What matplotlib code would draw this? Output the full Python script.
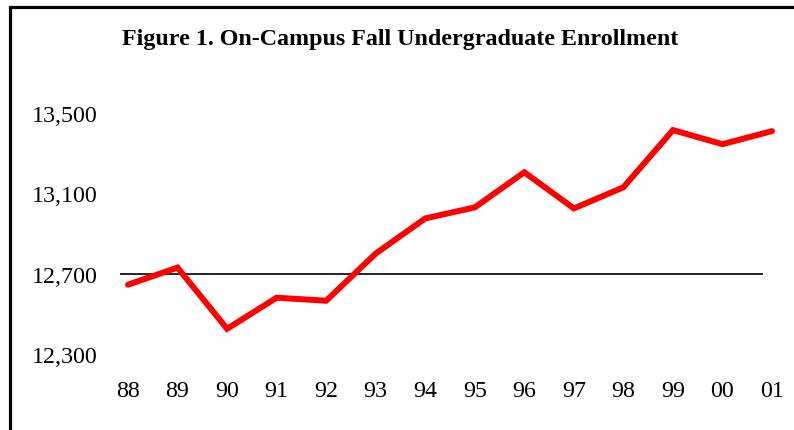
import matplotlib
matplotlib.use("Agg")
import matplotlib.pyplot as plt
from matplotlib.patches import Rectangle

years = ["88", "89", "90", "91", "92", "93", "94", "95", "96", "97", "98", "99", "00", "01"]
enrollment = [12645, 12730, 12425, 12580, 12565, 12800, 12975, 13030, 13205, 13025, 13130, 13415, 13345, 13410]
yticks = [12300, 12700, 13100, 13500]
ytick_labels = ["12,300", "12,700", "13,100", "13,500"]
title = "Figure 1. On-Campus Fall Undergraduate Enrollment"

W, H = 794, 431
fig = plt.figure(figsize=(W / 100, H / 100), dpi=100)
plt.rcParams['font.family'] = ['Liberation Serif', 'DejaVu Serif']

# axes: left 120px, right 780px, top 100px, bottom 380px
ax = fig.add_axes([120 / W, 1 - 380 / H, 660 / W, 280 / H])
x = list(range(len(years)))
step = (772 - 128) / 13
ax.set_xlim(-8 / step, 13 + 8 / step)
ax.set_ylim(12300 - 27 * 5 + 10, 13500 + 12 * 5 + 10)

ax.hlines(12700, -8 / step, (763 - 128) / step, color="black", linewidth=1.2, zorder=1)
ax.plot(x, enrollment, color="#ff0000", linewidth=4.3, solid_joinstyle="miter",
        solid_capstyle="round", zorder=2)

for s in ax.spines.values():
    s.set_visible(False)
ax.set_yticks(yticks)
ax.set_yticklabels(ytick_labels, fontsize=17.3)
ax.tick_params(axis="y", length=0, pad=16)
ax.set_xticks(x)
ax.set_xticklabels(years, fontsize=17.3)
ax.tick_params(axis="x", length=0, pad=1)

fig.text(400 / W, 1 - 39 / H, title, ha="center", va="center", fontsize=17.3, fontweight="bold")

fig.add_artist(Rectangle((10 / W, -0.5), 2, 1.5 - 7.5 / H, transform=fig.transFigure,
                         fill=False, edgecolor="black", linewidth=2.3))

fig.savefig("out.png", dpi=100)
